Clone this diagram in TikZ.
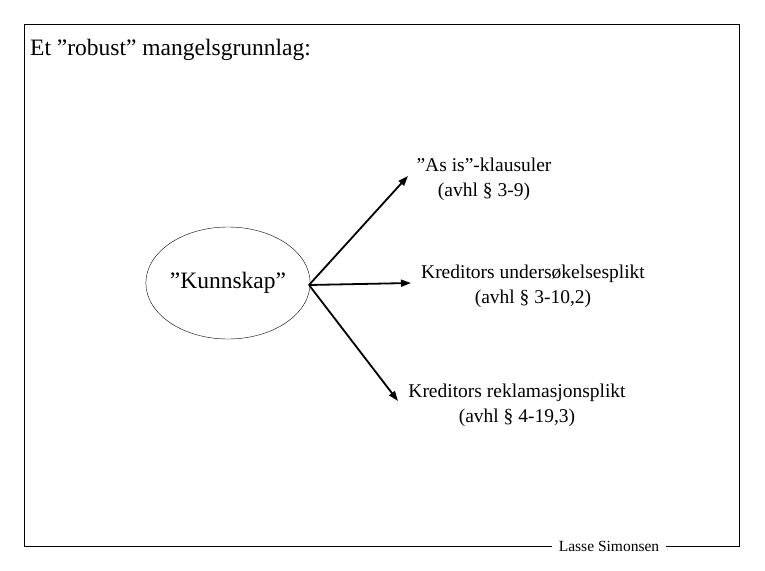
\documentclass[tikz,border=0pt]{standalone}
\usepackage{fontspec}
\setmainfont{Liberation Serif}
\usetikzlibrary{arrows.meta,shapes.geometric}

\begin{document}
\begin{tikzpicture}[x=1pt,y=-1pt,
  pil/.style={-{Triangle[length=10pt,width=7pt]},line width=1.8pt},
  ledd/.style={align=center,font=\fontsize{19.5}{25}\selectfont}]
\useasboundingbox (0,0) rectangle (765,570);
\fill[white] (0,0) rectangle (765,570);
% ramme med navn
\node[inner xsep=7pt] (navn) at (609,546) {\fontsize{15.5}{17}\selectfont Lasse Simonsen};
\draw[line width=0.9pt] (navn.west) -- (24,546) -- (24,24) -- (739,24) -- (739,546) -- (navn.east);
\node[anchor=base west,inner sep=0pt] (tittel) at (30,55) {\fontsize{23.5}{26}\selectfont Et ”robust” mangelsgrunnlag:};
% kunnskap
\node [ellipse,draw,minimum width=162pt,minimum height=112pt,inner sep=0pt] (k) at (228,283)
  {\fontsize{23.5}{26}\selectfont ”Kunnskap”};
\coordinate (s) at (309,285);
\node [ledd] (asis) at (484,179) {”As is”-klausuler\\(avhl § 3-9)};
\node [ledd] (und) at (533,286) {Kreditors undersøkelsesplikt\\(avhl § 3-10,2)};
\node [ledd] (rek) at (517,405) {Kreditors reklamasjonsplikt\\(avhl § 4-19,3)};
\coordinate (a1) at (408,176);
\coordinate (a2) at (411,283);
\coordinate (a3) at (398,401);
\draw[pil] (s) -- (a1);
\draw[pil] (s) -- (a2);
\draw[pil] (s) -- (a3);
\end{tikzpicture}
\end{document}
